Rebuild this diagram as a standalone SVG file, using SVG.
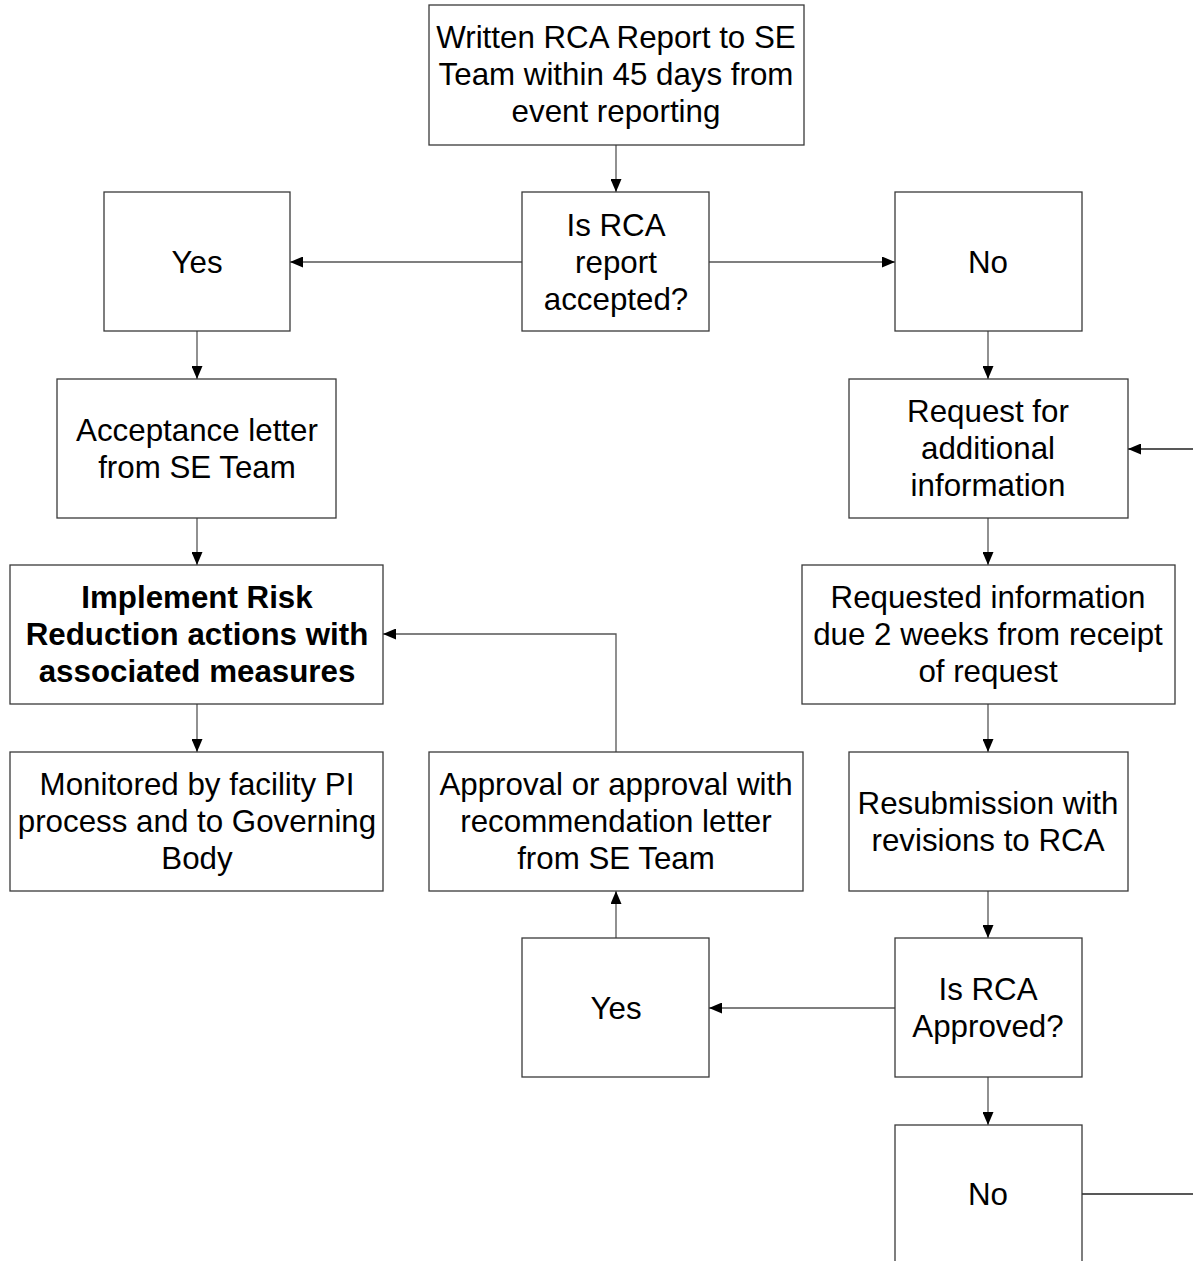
<svg xmlns="http://www.w3.org/2000/svg" width="1193" height="1261" viewBox="0 0 1193 1261">
<defs>
<marker id="arr" markerUnits="userSpaceOnUse" markerWidth="13" markerHeight="11" refX="13" refY="5.5" orient="auto">
<path d="M0,0 L13,5.5 L0,11 z" fill="#000"/>
</marker>
<style>
.box{fill:#fff;stroke:#3a3a3a;stroke-width:1.3}
.t{font-family:"Liberation Sans",Arial,sans-serif;font-size:31.3px;fill:#000;text-anchor:middle}
.b{font-weight:bold}
.c{fill:none;stroke:#555;stroke-width:1.3}
</style>
</defs>
<rect width="1193" height="1261" fill="#fff"/>
<g id="connectors">
<line class="c" x1="616" y1="145" x2="616" y2="192" marker-end="url(#arr)"/>
<line class="c" x1="522" y1="262" x2="290" y2="262" marker-end="url(#arr)"/>
<line class="c" x1="709" y1="262" x2="895" y2="262" marker-end="url(#arr)"/>
<line class="c" x1="197" y1="331" x2="197" y2="379" marker-end="url(#arr)"/>
<line class="c" x1="197" y1="518" x2="197" y2="565" marker-end="url(#arr)"/>
<line class="c" x1="197" y1="704" x2="197" y2="752" marker-end="url(#arr)"/>
<line class="c" x1="988" y1="331" x2="988" y2="379" marker-end="url(#arr)"/>
<line class="c" x1="988" y1="518" x2="988" y2="565" marker-end="url(#arr)"/>
<line class="c" x1="988" y1="704" x2="988" y2="752" marker-end="url(#arr)"/>
<line class="c" x1="988" y1="891" x2="988" y2="938" marker-end="url(#arr)"/>
<line class="c" x1="895" y1="1008" x2="709" y2="1008" marker-end="url(#arr)"/>
<line class="c" x1="988" y1="1077" x2="988" y2="1125" marker-end="url(#arr)"/>
<line class="c" x1="616" y1="938" x2="616" y2="891" marker-end="url(#arr)"/>
<polyline class="c" points="616,752 616,634 383,634" marker-end="url(#arr)"/>
<polyline class="c" points="1082,1194 1205,1194 1205,449 1128,449" marker-end="url(#arr)" style="stroke:#222"/>
</g>
<g id="n_written">
<rect class="box" x="429" y="5" width="375" height="140"/>
<text class="t" x="616" y="48">Written RCA Report to SE</text>
<text class="t" x="616" y="85">Team within 45 days from</text>
<text class="t" x="616" y="122">event reporting</text>
</g>
<g id="n_accepted">
<rect class="box" x="522" y="192" width="187" height="139"/>
<text class="t" x="616" y="236">Is RCA</text>
<text class="t" x="616" y="273">report</text>
<text class="t" x="616" y="310">accepted?</text>
</g>
<g id="n_yes1">
<rect class="box" x="104" y="192" width="186" height="139"/>
<text class="t" x="197" y="273">Yes</text>
</g>
<g id="n_no1">
<rect class="box" x="895" y="192" width="187" height="139"/>
<text class="t" x="988" y="273">No</text>
</g>
<g id="n_acceptance">
<rect class="box" x="57" y="379" width="279" height="139"/>
<text class="t" x="197" y="441">Acceptance letter</text>
<text class="t" x="197" y="478">from SE Team</text>
</g>
<g id="n_request">
<rect class="box" x="849" y="379" width="279" height="139"/>
<text class="t" x="988" y="422">Request for</text>
<text class="t" x="988" y="459">additional</text>
<text class="t" x="988" y="496">information</text>
</g>
<g id="n_implement">
<rect class="box" x="10" y="565" width="373" height="139"/>
<text class="t b" x="197" y="608">Implement Risk</text>
<text class="t b" x="197" y="645">Reduction actions with</text>
<text class="t b" x="197" y="682">associated measures</text>
</g>
<g id="n_requested">
<rect class="box" x="802" y="565" width="373" height="139"/>
<text class="t" x="988" y="608">Requested information</text>
<text class="t" x="988" y="645">due 2 weeks from receipt</text>
<text class="t" x="988" y="682">of request</text>
</g>
<g id="n_monitored">
<rect class="box" x="10" y="752" width="373" height="139"/>
<text class="t" x="197" y="795">Monitored by facility PI</text>
<text class="t" x="197" y="832">process and to Governing</text>
<text class="t" x="197" y="869">Body</text>
</g>
<g id="n_approval">
<rect class="box" x="429" y="752" width="374" height="139"/>
<text class="t" x="616" y="795">Approval or approval with</text>
<text class="t" x="616" y="832">recommendation letter</text>
<text class="t" x="616" y="869">from SE Team</text>
</g>
<g id="n_resubmission">
<rect class="box" x="849" y="752" width="279" height="139"/>
<text class="t" x="988" y="814">Resubmission with</text>
<text class="t" x="988" y="851">revisions to RCA</text>
</g>
<g id="n_approved">
<rect class="box" x="895" y="938" width="187" height="139"/>
<text class="t" x="988" y="1000">Is RCA</text>
<text class="t" x="988" y="1037">Approved?</text>
</g>
<g id="n_yes2">
<rect class="box" x="522" y="938" width="187" height="139"/>
<text class="t" x="616" y="1019">Yes</text>
</g>
<g id="n_no2">
<rect class="box" x="895" y="1125" width="187" height="140"/>
<text class="t" x="988" y="1205">No</text>
</g>
</svg>
